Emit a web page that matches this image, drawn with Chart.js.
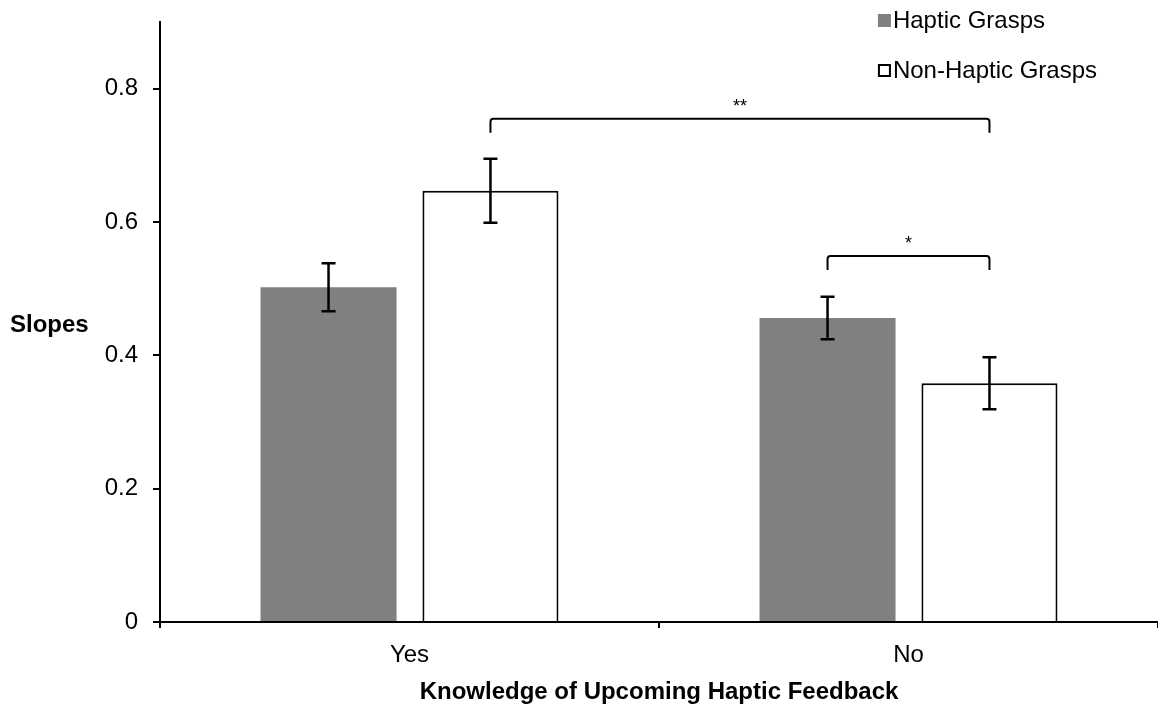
<!DOCTYPE html>
<html>
<head>
<meta charset="utf-8">
<title>Slopes by knowledge of upcoming haptic feedback</title>
<script src="https://cdn.jsdelivr.net/npm/chart.js@4.4.1/dist/chart.umd.min.js"></script>
<style>
  html, body { margin: 0; padding: 0; background: #fff; }
  canvas { display: block; }
</style>
</head>
<body>
<canvas id="chart" width="1158" height="707"></canvas>
<script>
// Conditions on the x axis
const categories = ['Yes', 'No'];

// Mean slopes per grasp type
const hapticSlopes = [0.502, 0.456];
const nonHapticSlopes = [0.647, 0.358];

// Standard errors
const hapticErrors = [0.036, 0.032];
const nonHapticErrors = [0.048, 0.039];

// Y axis ticks
const yTickValues = [0, 0.2, 0.4, 0.6, 0.8];
const yTickLabels = ['0', '0.2', '0.4', '0.6', '0.8'];

// Significance brackets: [dataset, category] at each end, height in slope units
const bracketStarts = [[1, 0], [0, 1]];
const bracketEnds = [[1, 1], [1, 1]];
const bracketLevels = [0.755, 0.549];
const bracketLabels = ['**', '*'];

const FONT = '"Liberation Sans", Arial, Helvetica, sans-serif';

const errorsByDataset = [hapticErrors, nonHapticErrors];

const annotations = {
  id: 'annotations',
  afterDatasetsDraw(chart) {
    const ctx = chart.ctx;
    const yScale = chart.scales.y;
    ctx.save();

    // Error bars
    ctx.strokeStyle = '#000';
    ctx.lineWidth = 2.5;
    chart.data.datasets.forEach((ds, i) => {
      const meta = chart.getDatasetMeta(i);
      meta.data.forEach((bar, j) => {
        const v = ds.data[j];
        const e = errorsByDataset[i][j];
        const yTop = yScale.getPixelForValue(v + e);
        const yBot = yScale.getPixelForValue(v - e);
        const cap = 7;
        ctx.beginPath();
        ctx.moveTo(bar.x, yTop); ctx.lineTo(bar.x, yBot);
        ctx.moveTo(bar.x - cap, yTop); ctx.lineTo(bar.x + cap, yTop);
        ctx.moveTo(bar.x - cap, yBot); ctx.lineTo(bar.x + cap, yBot);
        ctx.stroke();
      });
    });

    // Significance brackets
    ctx.lineWidth = 2;
    bracketLevels.forEach((level, k) => {
      const a = chart.getDatasetMeta(bracketStarts[k][0]).data[bracketStarts[k][1]];
      const b = chart.getDatasetMeta(bracketEnds[k][0]).data[bracketEnds[k][1]];
      const y = yScale.getPixelForValue(level);
      const drop = 14;
      const r = 3;
      ctx.beginPath();
      ctx.moveTo(a.x, y + drop);
      ctx.arcTo(a.x, y, a.x + r, y, r);
      ctx.lineTo(b.x - r, y);
      ctx.arcTo(b.x, y, b.x, y + r, r);
      ctx.lineTo(b.x, y + drop);
      ctx.stroke();
      ctx.fillStyle = '#000';
      ctx.font = '18px ' + FONT;
      ctx.textAlign = 'center';
      ctx.textBaseline = 'middle';
      ctx.fillText(bracketLabels[k], (a.x + b.x) / 2, y - 12);
    });
    ctx.restore();
  },
  afterDraw(chart) {
    const ctx = chart.ctx;
    const area = chart.chartArea;
    ctx.save();
    ctx.fillStyle = '#000';

    // Y axis title, horizontal at the left
    ctx.font = 'bold 24px ' + FONT;
    ctx.textAlign = 'left';
    ctx.textBaseline = 'middle';
    ctx.fillText('Slopes', 10, 325);

    // X axis title
    ctx.textAlign = 'center';
    ctx.fillText('Knowledge of Upcoming Haptic Feedback', (area.left + area.right) / 2, 692);

    // Legend, right-aligned block near the top
    ctx.font = '24px ' + FONT;
    ctx.textAlign = 'left';
    const labelWidth = Math.max(...chart.data.datasets.map(ds => ctx.measureText(ds.label).width));
    const textX = 1097 - labelWidth;
    const boxX = textX - 15;
    const legendY = [20, 70];
    chart.data.datasets.forEach((ds, i) => {
      const y = legendY[i];
      ctx.fillStyle = ds.backgroundColor;
      ctx.fillRect(boxX, y - 6, 13, 13);
      if (ds.borderWidth) {
        ctx.strokeStyle = ds.borderColor;
        ctx.lineWidth = 2;
        ctx.strokeRect(boxX + 1, y - 5, 11, 11);
      }
      ctx.fillStyle = '#000';
      ctx.fillText(ds.label, textX, y + 1);
    });
    ctx.restore();
  }
};

new Chart(document.getElementById('chart'), {
  type: 'bar',
  data: {
    labels: categories,
    datasets: [
      {
        label: 'Haptic Grasps',
        data: hapticSlopes,
        backgroundColor: '#808080',
        borderWidth: 0
      },
      {
        label: 'Non-Haptic Grasps',
        data: nonHapticSlopes,
        backgroundColor: '#ffffff',
        borderColor: '#000000',
        borderWidth: 2
      }
    ]
  },
  options: {
    responsive: false,
    animation: false,
    devicePixelRatio: 1,
    layout: { padding: { top: 22, left: 0, right: 0, bottom: 0 } },
    categoryPercentage: 0.649,
    barPercentage: 0.84,
    plugins: {
      legend: { display: false },
      tooltip: { enabled: false }
    },
    scales: {
      x: {
        afterFit(scale) {
          scale.height = 85;
          scale.paddingLeft = 0;
          scale.paddingRight = 0;
        },
        border: { color: '#000', width: 2 },
        grid: {
          drawOnChartArea: false,
          drawTicks: true,
          tickLength: 6,
          color: '#000',
          lineWidth: 2
        },
        ticks: {
          color: '#000',
          padding: 13,
          font: { family: FONT, size: 24 }
        }
      },
      y: {
        min: 0,
        max: 0.9,
        afterFit(scale) {
          scale.width = 160;
          scale.paddingTop = 0;
          scale.paddingBottom = 0;
        },
        afterBuildTicks(scale) {
          scale.ticks = yTickValues.map(v => ({ value: v }));
        },
        border: { color: '#000', width: 2 },
        grid: {
          drawOnChartArea: false,
          drawTicks: true,
          tickLength: 7,
          color: '#000',
          lineWidth: 2
        },
        ticks: {
          color: '#000',
          padding: 15,
          font: { family: FONT, size: 24 },
          callback(value) {
            const idx = yTickValues.indexOf(value);
            return idx >= 0 ? yTickLabels[idx] : '';
          }
        }
      }
    }
  },
  plugins: [annotations]
});
</script>
</body>
</html>
